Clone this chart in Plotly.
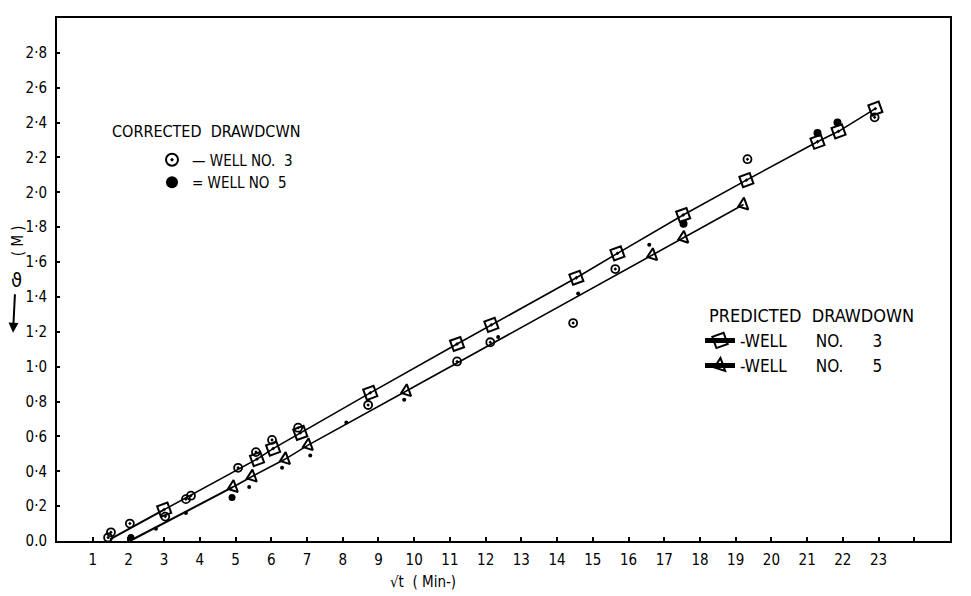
import plotly.graph_objects as go

# ---------------- data ----------------
x_tick_vals = list(range(1, 25))
x_tick_text = [str(v) for v in range(1, 24)] + [""]
y_tick_vals = [0.0, 0.2, 0.4, 0.6, 0.8, 1.0, 1.2, 1.4, 1.6, 1.8, 2.0, 2.2, 2.4, 2.6, 2.8]
y_tick_text = ["0.0", "0·2", "0·4", "0·6", "0·8", "1·0", "1·2", "1·4", "1·6", "1·8",
               "2·0", "2·2", "2·4", "2·6", "2·8"]

# predicted drawdown, well 3 (squares)
pred3_start_x = [1.48, 3.00]
pred3_start_y = [0.01, 0.18]
pred3_x = [3.00, 5.60, 6.05, 6.81, 8.77, 11.20, 12.16, 14.54, 15.69, 17.53, 19.30, 21.29, 21.88, 22.91]
pred3_y = [0.18, 0.47, 0.53, 0.62, 0.85, 1.13, 1.24, 1.51, 1.65, 1.87, 2.07, 2.29, 2.35, 2.48]

# predicted drawdown, well 5 (triangles)
pred5_start_x = [2.13, 4.93]
pred5_start_y = [0.01, 0.31]
pred5_x = [4.93, 5.46, 6.39, 7.03, 9.78, 16.67, 17.54, 19.22]
pred5_y = [0.31, 0.37, 0.47, 0.55, 0.86, 1.64, 1.74, 1.93]

# corrected drawdown, well 3 (open circles)
obs3_x = [1.43, 1.51, 2.04, 3.03, 3.61, 3.75, 5.07, 5.57, 6.02, 6.75, 8.71, 11.20, 12.13, 14.45, 15.63, 19.33, 22.89]
obs3_y = [0.02, 0.05, 0.10, 0.14, 0.24, 0.26, 0.42, 0.51, 0.58, 0.65, 0.78, 1.03, 1.14, 1.25, 1.56, 2.19, 2.43]

# corrected drawdown, well 5 (filled dots)
obs5_x = [2.07, 2.77, 3.61, 4.90, 5.38, 6.30, 7.09, 8.10, 9.72, 12.35, 14.59, 16.58, 17.54, 21.29, 21.85]
obs5_y = [0.02, 0.07, 0.16, 0.25, 0.31, 0.42, 0.49, 0.68, 0.81, 1.17, 1.42, 1.70, 1.82, 2.34, 2.40]
obs5_size = [7, 4, 4, 7, 4, 4, 4, 4, 4, 4, 4, 4, 8, 8, 8]

FONT = "DejaVu Sans Condensed, Liberation Sans Narrow, DejaVu Sans, sans-serif"
NB = "\u00a0"

# page geometry (browser body has an 8px margin)
OFF = 8
W, H = 971 - OFF, 596 - OFF
PL, PR, PT, PB = 57, 950, 16, 541  # plot area in page pixels


def px(p):
    return (p - PL) / (PR - PL)


def py(p):
    return (PB - p) / (PB - PT)


fig = go.Figure()

# line segments before first markers
fig.add_trace(go.Scatter(x=pred3_start_x, y=pred3_start_y, mode="lines",
                         line=dict(color="black", width=2), showlegend=False, hoverinfo="skip"))
fig.add_trace(go.Scatter(x=pred5_start_x, y=pred5_start_y, mode="lines",
                         line=dict(color="black", width=2), showlegend=False, hoverinfo="skip"))

fig.add_trace(go.Scatter(
    x=pred3_x, y=pred3_y, mode="lines+markers",
    name="-WELL" + NB * 6 + "NO." + NB * 6 + "3", legend="legend2",
    line=dict(color="black", width=1.6),
    marker=dict(symbol="square-open-dot", size=11, angle=-20, color="black", opacity=1,
                line=dict(color="black", width=2))))
fig.add_trace(go.Scatter(
    x=pred5_x, y=pred5_y, mode="lines+markers",
    name="-WELL" + NB * 6 + "NO." + NB * 6 + "5", legend="legend2",
    line=dict(color="black", width=1.6),
    marker=dict(symbol="triangle-left-open", size=11, angle=-20, color="black", opacity=1,
                line=dict(color="black", width=2))))

fig.add_trace(go.Scatter(
    x=obs3_x, y=obs3_y, mode="markers", name="— WELL" + NB + "NO." + NB * 2 + "3", legend="legend",
    marker=dict(symbol="circle-open-dot", size=8, color="black", opacity=1,
                line=dict(color="black", width=1.8))))
fig.add_trace(go.Scatter(
    x=obs5_x, y=obs5_y, mode="markers", name="= WELL" + NB + "NO" + NB * 2 + "5", legend="legend",
    marker=dict(symbol="circle", size=obs5_size, color="black", opacity=1,
                line=dict(width=0))))

fig.update_layout(
    width=W, height=H,
    margin=dict(l=PL - OFF, r=W - (PR - OFF), t=PT - OFF, b=H - (PB - OFF)),
    paper_bgcolor="white", plot_bgcolor="white",
    font=dict(family=FONT, size=14, color="black"),
    showlegend=True,
    legend=dict(x=px(152), y=py(142), xanchor="left", yanchor="top",
                bgcolor="rgba(0,0,0,0)", borderwidth=0, itemsizing="constant",
                font=dict(family=FONT, size=15, color="black"), tracegroupgap=0),
    legend2=dict(x=px(700), y=py(322), xanchor="left", yanchor="top",
                 bgcolor="rgba(0,0,0,0)", borderwidth=0, itemsizing="constant",
                 font=dict(family=FONT, size=17, color="black"), tracegroupgap=0),
    xaxis=dict(range=[0, 25], tickvals=x_tick_vals, ticktext=x_tick_text,
               showgrid=False, zeroline=False, showline=True, linecolor="black",
               linewidth=2, mirror=True, ticks="inside", ticklen=4, tickwidth=1.5,
               tickcolor="black", tickfont=dict(size=15), ticklabelstandoff=4),
    yaxis=dict(range=[0, 3.0], tickvals=y_tick_vals, ticktext=y_tick_text,
               showgrid=False, zeroline=False, showline=True, linecolor="black",
               linewidth=2, mirror=True, ticks="inside", ticklen=3, tickwidth=1.5,
               tickcolor="black", tickfont=dict(size=15), ticklabelstandoff=5),
    annotations=[
        dict(text="CORRECTED  DRAWDCWN", xref="paper", yref="paper", x=px(110), y=py(130),
             xanchor="left", yanchor="middle", showarrow=False, font=dict(size=16)),
        dict(text="PREDICTED  DRAWDOWN", xref="paper", yref="paper", x=px(707), y=py(315),
             xanchor="left", yanchor="middle", showarrow=False, font=dict(size=18)),
        dict(text="√t  ( Min-)", xref="paper", yref="paper", x=px(423), y=py(582),
             xanchor="center", yanchor="middle", showarrow=False, font=dict(size=15)),
        dict(text="( M )", xref="paper", yref="paper", x=px(18), y=py(240),
             xanchor="center", yanchor="middle", textangle=-90, showarrow=False,
             font=dict(size=15)),
        dict(text="ϑ", xref="paper", yref="paper", x=px(16), y=py(279),
             xanchor="center", yanchor="middle", showarrow=False, font=dict(size=20)),
        dict(text="", xref="paper", yref="paper", x=px(13), y=py(332),
             ax=2, ay=-40, axref="pixel", ayref="pixel",
             showarrow=True, arrowhead=2, arrowsize=1, arrowwidth=2, arrowcolor="black"),
    ],
)

fig.write_html("out.html")
